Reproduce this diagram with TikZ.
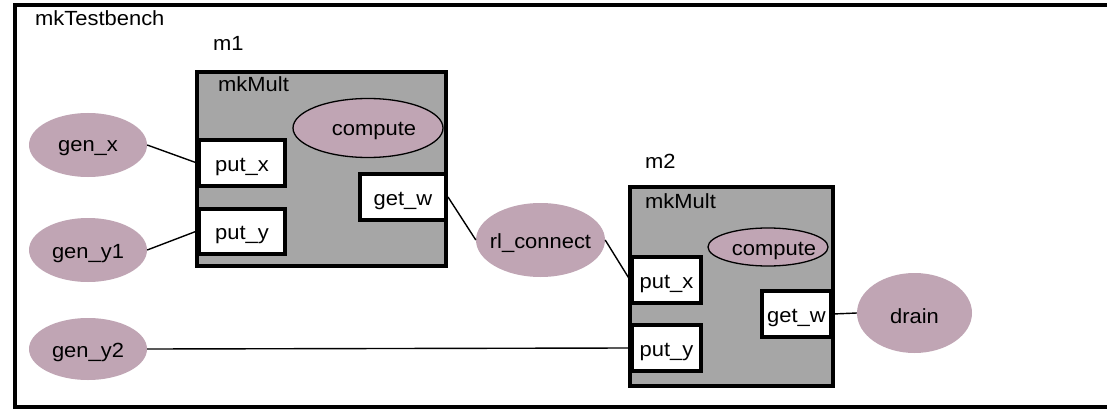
\documentclass[tikz,border=0pt]{standalone}
\usepackage{fontspec}
\setmainfont{Liberation Sans}[FakeStretch=1.07]
\usetikzlibrary{shapes.geometric}
\definecolor{mauve}{RGB}{192,165,180}
\definecolor{modgray}{RGB}{166,166,166}
\newcommand{\lowtext}[1]{\raisebox{-3.5pt}[\height][\depth]{#1}}
\newcommand{\zwtext}[1]{\makebox[0pt]{\lowtext{#1}}}
\tikzset{
  lbl/.style={font=\fontsize{20.5}{24}\selectfont, inner sep=0pt, anchor=base west},
  rulenode/.style={ellipse, fill=mauve, inner sep=0pt, font=\fontsize{20.5}{24}\selectfont},
  rulebord/.style={rulenode, draw=black, line width=1.3pt},
  modbox/.style={rectangle, draw=black, fill=modgray, line width=4pt, inner sep=0pt},
  portbox/.style={rectangle, draw=black, fill=white, line width=4pt, inner sep=0pt, font=\fontsize{20.5}{24}\selectfont},
  conn/.style={draw=black, line width=1.4pt}
}
\begin{document}
\begin{tikzpicture}[x=1pt,y=-1pt]
\clip (0,0) rectangle (1107,409);
\fill[white] (0,0) rectangle (1107,409);
% outer frame
\node[rectangle, draw=black, line width=4pt, minimum width=1120pt, minimum height=402pt, inner sep=0pt] (tb) at (575,206) {};
\node[lbl] (tblbl) at (35,26) {mkTestbench};

% module m1
\node[lbl] (m1lbl) at (213,51) {m1};
\node[modbox, minimum width=249pt, minimum height=194pt] (m1) at (321.5,169) {};
\node[lbl] (m1type) at (218,92) {mkMult};
\node[rulebord, minimum width=150pt, minimum height=59pt] (m1comp) at (368,128) {\zwtext{\hspace*{12pt}compute}};
\node[portbox, minimum width=86pt, minimum height=46pt] (m1putx) at (242,163) {\lowtext{put\_x}};
\node[portbox, minimum width=86pt, minimum height=45pt] (m1puty) at (242,231) {\lowtext{put\_y}};
\node[portbox, minimum width=86pt, minimum height=46pt] (m1getw) at (403,197) {\lowtext{get\_w}};

% module m2
\node[lbl] (m2lbl) at (645,168) {m2};
\node[modbox, minimum width=203pt, minimum height=199pt] (m2) at (731.5,286.5) {};
\node[lbl] (m2type) at (645,208) {mkMult};
\node[rulebord, minimum width=120pt, minimum height=38pt] (m2comp) at (768,247) {\zwtext{\hspace*{12pt}compute}};
\node[portbox, minimum width=69pt, minimum height=46pt] (m2putx) at (666.5,280) {\lowtext{put\_x}};
\node[portbox, minimum width=69pt, minimum height=46pt] (m2puty) at (666.5,348) {\lowtext{put\_y}};
\node[portbox, minimum width=69pt, minimum height=46pt] (m2getw) at (796.5,314) {\lowtext{get\_w}};

% rules
\node[rulenode, minimum width=118pt, minimum height=64pt] (genx) at (88,145) {\zwtext{gen\_x}};
\node[rulenode, minimum width=118pt, minimum height=64pt] (geny1) at (88,250) {\zwtext{gen\_y1}};
\node[rulenode, minimum width=118pt, minimum height=62pt] (geny2) at (88,349) {\zwtext{gen\_y2}};
\node[rulenode, minimum width=129pt, minimum height=74pt] (rl) at (540.5,240) {\zwtext{rl\_connect}};
\node[rulenode, minimum width=115pt, minimum height=80pt] (drain) at (914.5,313) {\zwtext{drain}};

% connectors
\draw[conn] (genx.east) -- (m1putx.west);
\draw[conn] (geny1.east) -- (m1puty.west);
\draw[conn] (m1getw.east) -- (rl.west);
\draw[conn] (rl.east) -- (m2putx.west);
\draw[conn] (geny2.east) -- (m2puty.west);
\draw[conn] (m2getw.east) -- (drain.west);
\end{tikzpicture}
\end{document}
